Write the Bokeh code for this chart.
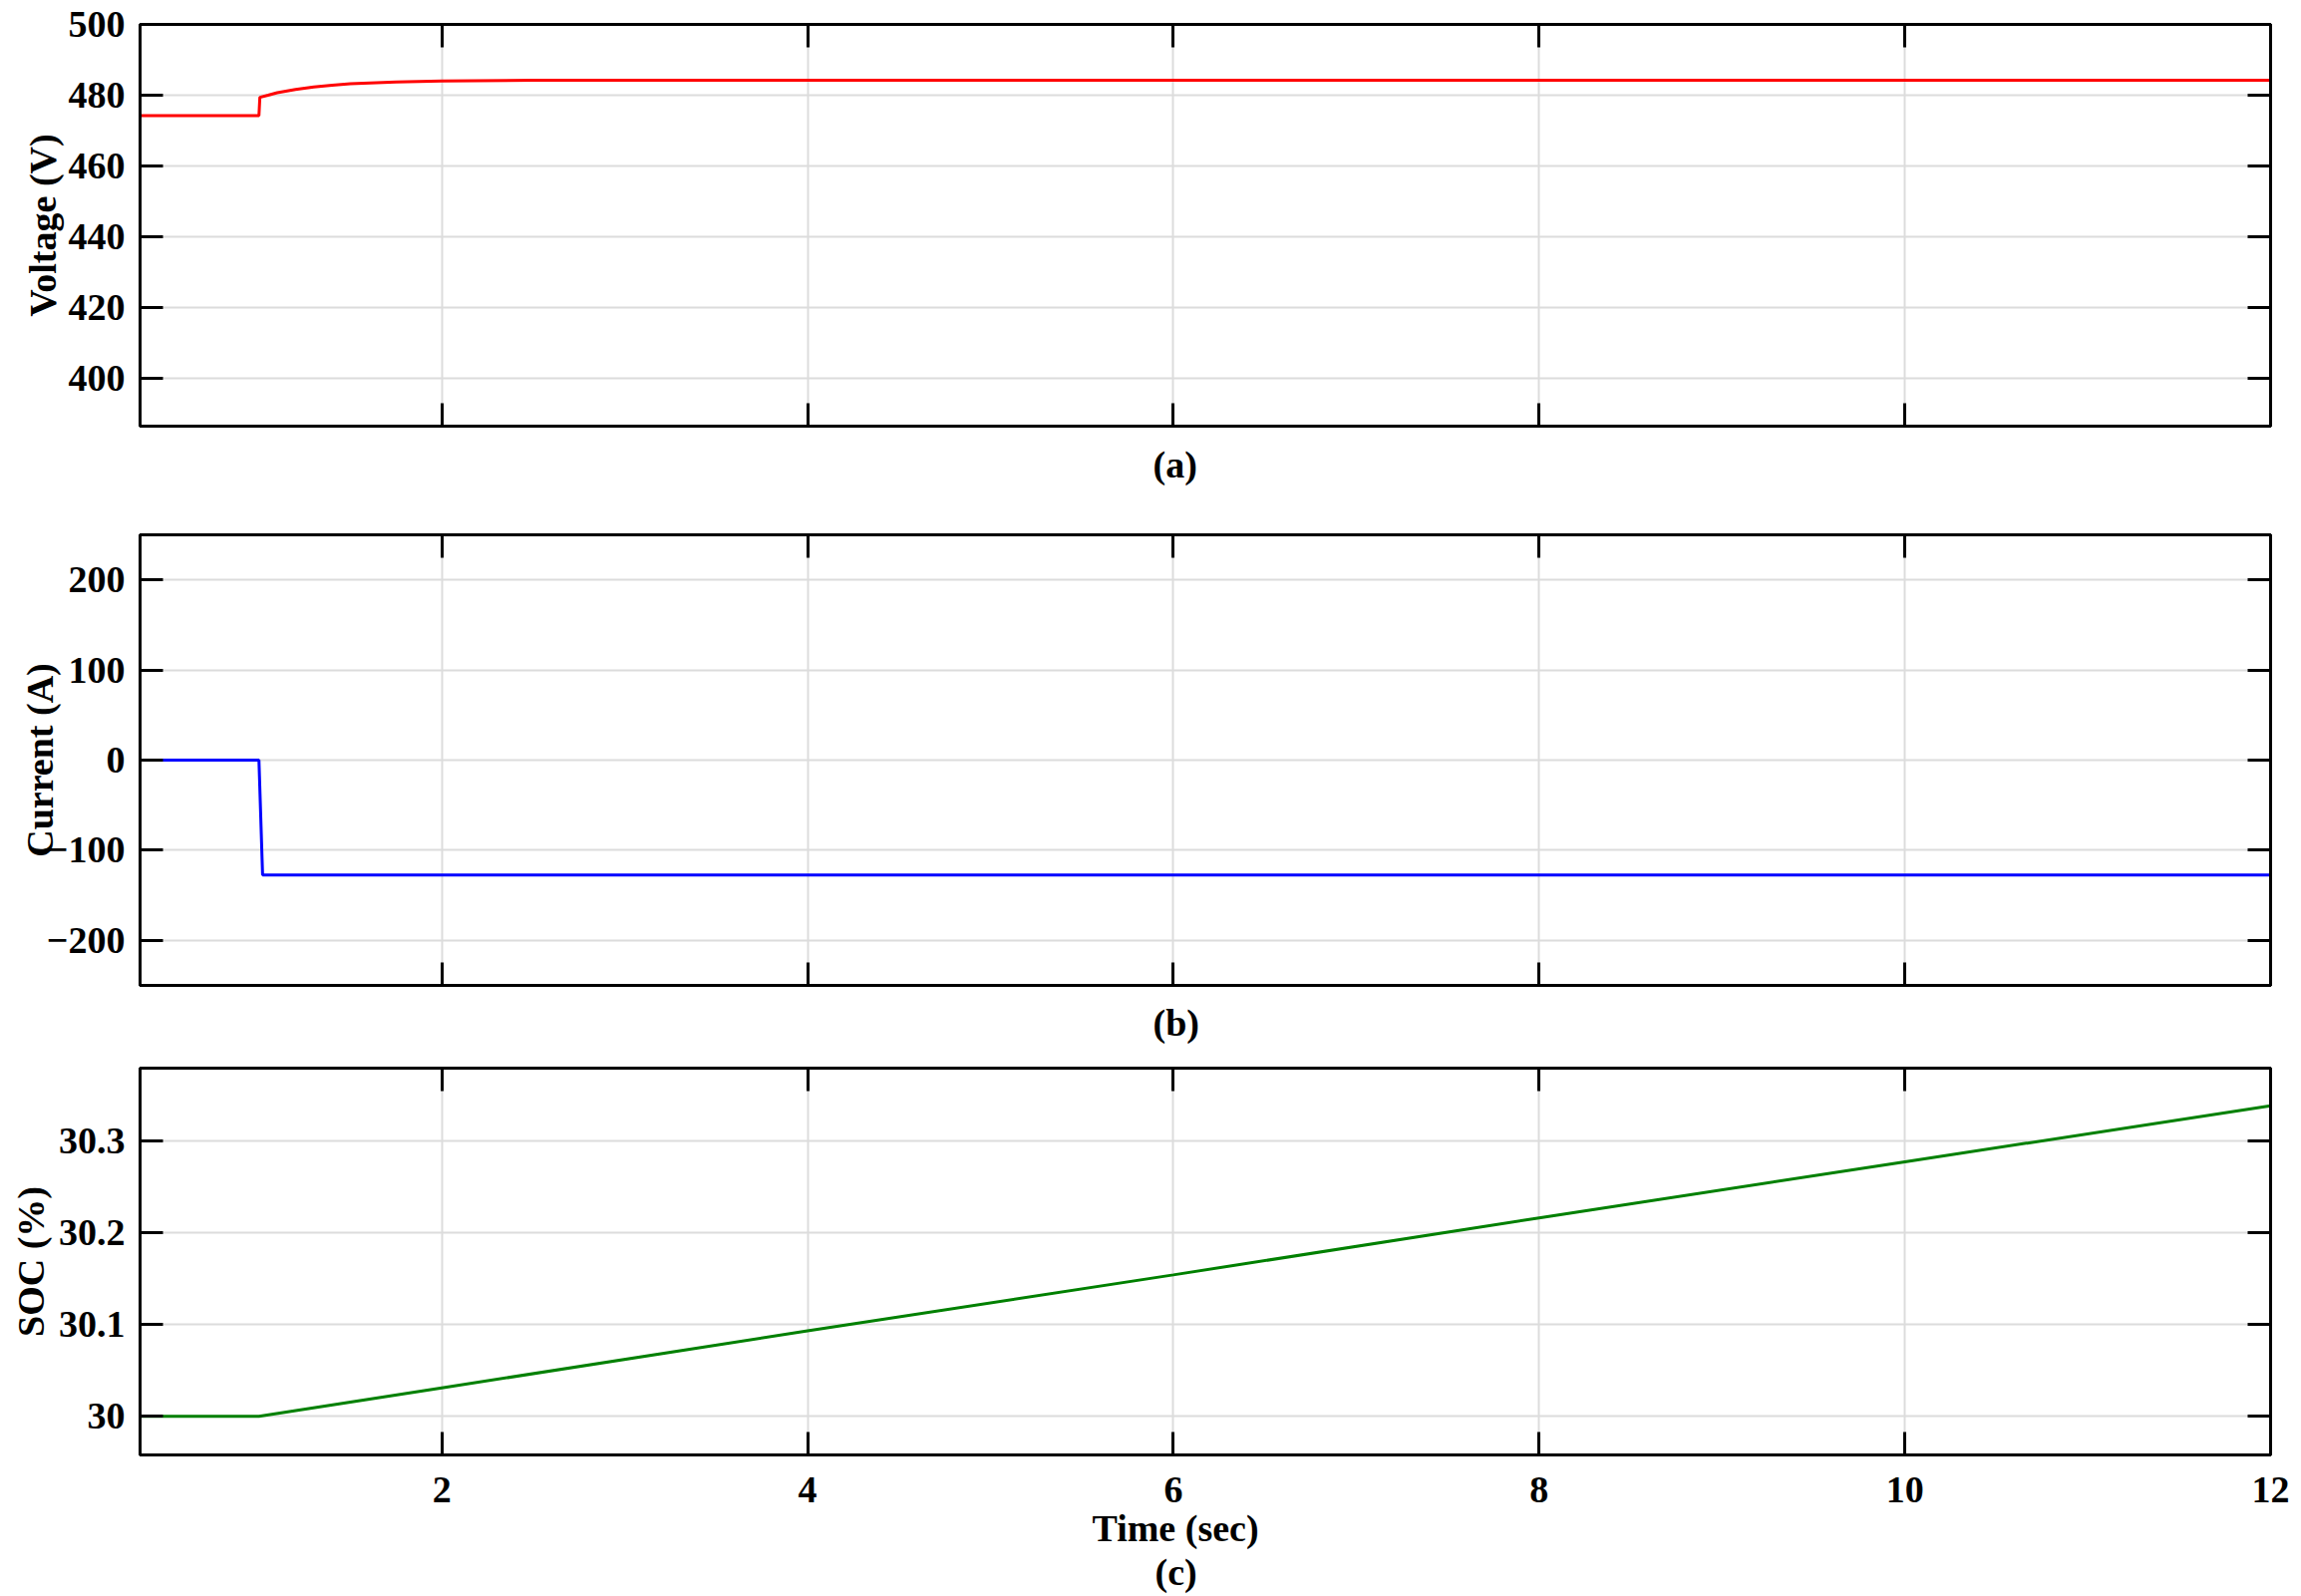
from bokeh.plotting import figure
from bokeh.layouts import column
from bokeh.models import Range1d, LinearAxis, FixedTicker, Title
from bokeh.embed import file_html
from bokeh.resources import INLINE

# ---------------- data ----------------
x_ticks = [2, 4, 6, 8, 10, 12]

volt_t = [0.35, 1.0, 1.005, 1.05, 1.1, 1.2, 1.3, 1.4, 1.5, 1.75, 2.0, 2.5, 3.0, 12.0]
volt_v = [474.2, 474.2, 479.4, 480.0, 480.7, 481.6, 482.3, 482.8, 483.2, 483.7, 484.0, 484.2, 484.2, 484.2]
volt_ticks = [400, 420, 440, 460, 480, 500]

curr_t = [0.35, 1.0, 1.02, 12.0]
curr_i = [0.0, 0.0, -127.5, -127.5]
curr_ticks = [-200, -100, 0, 100, 200]

soc_t = [0.35, 1.0, 2.0, 4.0, 6.0, 8.0, 10.0, 12.0]
soc_v = [30.0, 30.0, 30.031, 30.093, 30.154, 30.216, 30.277, 30.338]
soc_ticks = [30, 30.1, 30.2, 30.3]
soc_tick_labels = {30: "30", 30.1: "30.1", 30.2: "30.2", 30.3: "30.3"}

FONT = "Liberation Serif"
FS = "38px"
W = 2300


def hidden_axis(ticks, standoff=0):
    ax = LinearAxis(ticker=FixedTicker(ticks=ticks))
    ax.major_label_overrides = {t: "" for t in ticks}
    ax.major_label_text_font_size = "0px"
    ax.major_label_standoff = standoff
    ax.major_tick_in = 23
    ax.major_tick_out = 0
    ax.major_tick_line_width = 3
    ax.minor_tick_line_color = None
    ax.axis_line_width = 3
    return ax


def style_axis(ax, ticks):
    ax.ticker = FixedTicker(ticks=ticks)
    ax.major_tick_in = 23
    ax.major_tick_out = 0
    ax.major_tick_line_width = 3
    ax.minor_tick_line_color = None
    ax.axis_line_width = 3
    ax.major_label_text_font = FONT
    ax.major_label_text_font_style = "bold"
    ax.major_label_text_font_size = FS
    ax.major_label_text_color = "black"
    ax.major_label_standoff = 15
    ax.axis_label_text_font = FONT
    ax.axis_label_text_font_style = "bold"
    ax.axis_label_text_font_size = FS
    ax.axis_label_text_color = "black"


def panel(height, yr, yticks, ylabel, top, left, bottom, lab_standoff, xlabels, below_standoff=0):
    p = figure(width=W, height=height, x_range=Range1d(0.35, 12), y_range=Range1d(*yr),
               output_backend="svg", toolbar_location=None,
               min_border_top=top, min_border_left=left, min_border_right=23,
               min_border_bottom=bottom)
    p.outline_line_color = "black"
    p.outline_line_width = 3
    p.background_fill_color = "white"
    p.border_fill_color = "white"
    style_axis(p.yaxis[0], yticks)
    p.yaxis[0].axis_label = ylabel
    p.yaxis[0].axis_label_standoff = lab_standoff
    if xlabels:
        style_axis(p.xaxis[0], x_ticks)
        p.xaxis[0].major_label_standoff = below_standoff
    else:
        p.xaxis[0].visible = False
        p.add_layout(hidden_axis(x_ticks, below_standoff), "below")
    p.add_layout(hidden_axis(x_ticks), "above")
    p.add_layout(hidden_axis(yticks), "right")
    p.xgrid.ticker = FixedTicker(ticks=x_ticks)
    p.ygrid.ticker = FixedTicker(ticks=yticks)
    for g in (p.xgrid[0], p.ygrid[0]):
        g.grid_line_color = "#dcdcdc"
        g.grid_line_width = 2
    return p


def sub_title(p, text, offset, standoff=10):
    t = Title(text=text, align="left", offset=offset, text_font=FONT, standoff=standoff,
              text_font_style="bold", text_font_size=FS, text_color="black")
    p.add_layout(t, "below")


pa = panel(502, (386.4, 500), volt_ticks, "Voltage (V)", 24, 140, 75, 2, False)
pa.line(volt_t, volt_v, line_color="#ff0000", line_width=3)
sub_title(pa, "(a)", 1016, 30)

pb = panel(559, (-250, 250), curr_ticks, "Current (A)", 34, 140, 73, -17, False)
pb.line(curr_t, curr_i, line_color="#0000ff", line_width=3)
sub_title(pb, "(b)", 1016, 28)

pc = panel(540, (29.958, 30.379), soc_ticks, "SOC (%)", 10, 135, 142, 4, True, 22)
pc.yaxis[0].major_label_overrides = soc_tick_labels
pc.line(soc_t, soc_v, line_color="#008000", line_width=3)
sub_title(pc, "Time (sec)", 955, 0)
sub_title(pc, "(c)", 1018, 0)

layout = column(pa, pb, pc, spacing=0)
open("out.html", "w").write(file_html(layout, INLINE))
